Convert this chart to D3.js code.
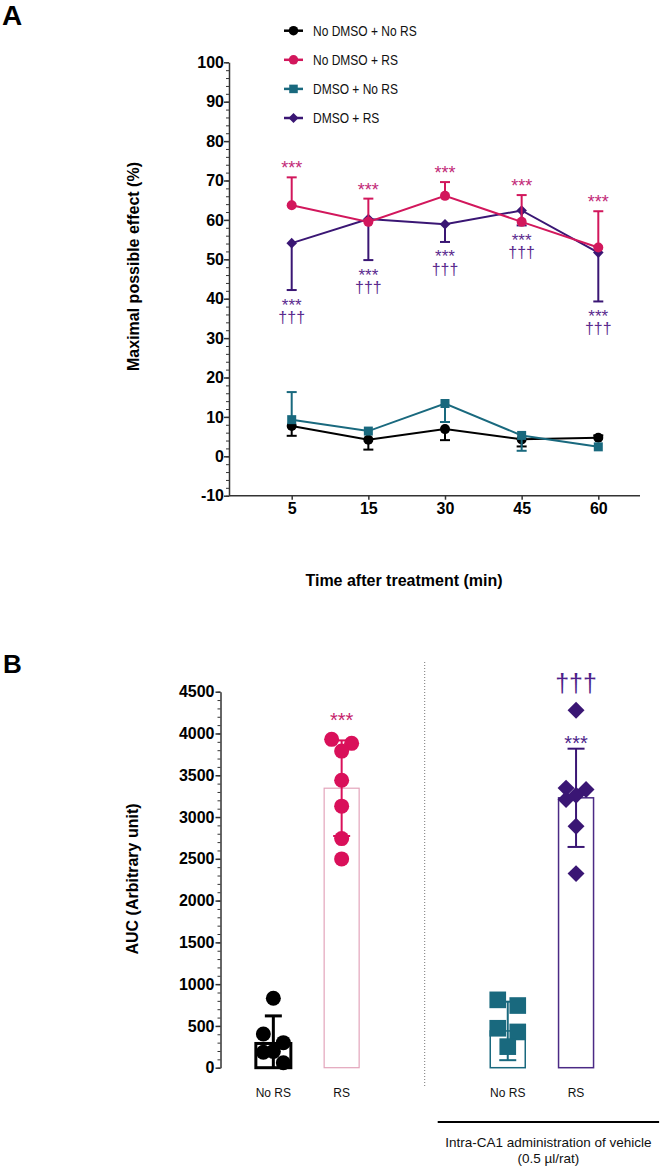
<!DOCTYPE html>
<html lang="en">
<head>
<meta charset="UTF-8">
<title>MPE time course and AUC</title>
<script src="https://cdn.jsdelivr.net/npm/d3@7/dist/d3.min.js"></script>
<style>
    body { margin: 0; background: #fff; }
    svg text { font-family: "Liberation Sans", Arial, sans-serif; }
</style>
</head>
<body>
<svg id="svg" width="665" height="1168"></svg>
<script>
    // ---- panel A : maximal possible effect over time
    var times = ["5", "15", "30", "45", "60"];
    var groupNames = ["No DMSO + No RS", "No DMSO + RS", "DMSO + No RS", "DMSO + RS"];
    var mpeNoDmsoNoRs = [7.7, 4.2, 6.9, 4.3, 4.7];
    var mpeNoDmsoRs = [63.7, 59.5, 66.1, 59.5, 53.0];
    var mpeDmsoNoRs = [9.3, 6.4, 13.4, 5.3, 2.4];
    var mpeDmsoRs = [54.1, 60.2, 58.9, 62.4, 51.7];
    // end of the error bar as drawn (only one side is shown)
    var errNoDmsoNoRs = [5.2, 1.7, 4.1, 2.5, 5.3];
    var errNoDmsoRs = [70.8, 65.4, 69.6, 66.3, 62.2];
    var errDmsoNoRs = [16.3, 6.4, 8.7, 1.4, 2.4];
    var errDmsoRs = [42.2, 49.8, 54.4, 58.6, 39.3];
    var starsNoDmsoRs = ["***", "***", "***", "***", "***"];
    var starsDmsoRs = ["***", "***", "***", "***", "***"];
    var daggersDmsoRs = ["†††", "†††", "†††", "†††", "†††"];
    var mpeTicks = [-10, 0, 10, 20, 30, 40, 50, 60, 70, 80, 90, 100];

    // ---- panel B : area under the curve
    var aucSets = ["none", "none", "vehicle", "vehicle"];
    var aucGroups = ["No RS", "RS", "No RS", "RS"];
    var aucMean = [290, 3345, 440, 3230];
    var aucSD = [330, 572, 350, 588];
    var aucNoRs = [832, 404, 300, 195, 185, 60];
    var aucRs = [3930, 3882, 3789, 3441, 3130, 2742, 2499];
    var aucVehNoRs = [812, 744, 472, 428, 252];
    var aucVehRs = [4277, 3346, 3330, 3260, 3210, 2890, 2323];
    var aucTicks = [0, 500, 1000, 1500, 2000, 2500, 3000, 3500, 4000, 4500];

    var PINK = "#d2175c", TEAL = "#19697e", PURPLE = "#3a1674", BLACK = "#000";
    var PINK_TXT = "#c22a78", PURPLE_TXT = "#5b2b8e";

    var svg = d3.select("#svg");
    var plainNum = function (d) { return d < 0 ? "-" + Math.abs(d) : String(d); };

    // marker paths
    function marker(kind, scale) {
        if (kind === "circle") return d3.symbol(d3.symbolCircle, Math.PI * 25 * scale * scale)();
        if (kind === "square") return d3.symbol(d3.symbolSquare, 81 * scale * scale)();
        return d3.symbol(d3.symbolSquare, 56 * scale * scale)();
    }
    function markerRot(kind) { return kind === "diamond" ? " rotate(45)" : ""; }

    // ================= panel A =================
    var gA = svg.append("g");
    var xA = d3.scalePoint(times, [291.7, 598.3]);
    var yA = d3.scaleLinear([-10, 100], [495.7, 62.3]);
    var axisX0 = 229, axisX1 = 640;

    gA.append("text").attr("x", 2).attr("y", 25)
        .style("font-size", "28px").style("font-weight", "bold").text("A");

    // minor y ticks
    gA.append("g").attr("transform", "translate(" + axisX0 + ",0)")
        .call(d3.axisLeft(yA).tickValues(d3.range(-10, 100.1, 2)).tickSize(3).tickFormat(""))
        .call(function (g) { g.select(".domain").remove(); g.selectAll("line").attr("stroke", "#333"); });
    // major y ticks
    gA.append("g").attr("transform", "translate(" + axisX0 + ",0)")
        .call(d3.axisLeft(yA).tickValues(mpeTicks).tickFormat(plainNum).tickSize(5).tickPadding(0).tickSizeOuter(0))
        .call(function (g) {
            g.select(".domain").attr("stroke", "#333").attr("stroke-width", 1.5);
            g.selectAll("line").attr("stroke", "#333").attr("stroke-width", 1.5);
            g.selectAll("text").attr("fill", "#000").style("font-size", "16px").style("font-weight", "bold");
        });
    // x axis
    gA.append("line").attr("x1", axisX0).attr("x2", axisX1)
        .attr("y1", yA(-10)).attr("y2", yA(-10)).attr("stroke", "#333").attr("stroke-width", 1.5);
    gA.append("g").attr("transform", "translate(0," + yA(-10) + ")")
        .call(d3.axisBottom(xA).tickSize(4).tickPadding(3))
        .call(function (g) {
            g.select(".domain").remove();
            g.selectAll("line").attr("stroke", "#333").attr("stroke-width", 1.5);
            g.selectAll("text").attr("fill", "#000").style("font-size", "16px").style("font-weight", "bold");
        });

    gA.append("text").attr("transform", "translate(139,266.5) rotate(-90)")
        .attr("text-anchor", "middle").style("font-size", "16px").style("font-weight", "bold")
        .text("Maximal possible effect (%)");
    gA.append("text").attr("x", 404).attr("y", 586)
        .attr("text-anchor", "middle").style("font-size", "16px").style("font-weight", "bold")
        .text("Time after treatment (min)");

    var seriesA = [
        {name: groupNames[0], vals: mpeNoDmsoNoRs, err: errNoDmsoNoRs, color: BLACK, kind: "circle"},
        {name: groupNames[1], vals: mpeNoDmsoRs, err: errNoDmsoRs, color: PINK, kind: "circle"},
        {name: groupNames[2], vals: mpeDmsoNoRs, err: errDmsoNoRs, color: TEAL, kind: "square"},
        {name: groupNames[3], vals: mpeDmsoRs, err: errDmsoRs, color: PURPLE, kind: "diamond"}
    ];
    var drawOrder = [0, 2, 3, 1];
    var line = d3.line().x(function (d, i) { return xA(times[i]); }).y(function (d) { return yA(d); });

    drawOrder.forEach(function (k) {
        var s = seriesA[k];
        var g = gA.append("g");
        // error bars
        s.err.forEach(function (e, i) {
            if (Math.abs(e - s.vals[i]) < 0.3) return;
            var x = xA(times[i]);
            g.append("line").attr("x1", x).attr("x2", x).attr("y1", yA(s.vals[i])).attr("y2", yA(e))
                .attr("stroke", s.color).attr("stroke-width", 2);
            g.append("line").attr("x1", x - 5).attr("x2", x + 5).attr("y1", yA(e)).attr("y2", yA(e))
                .attr("stroke", s.color).attr("stroke-width", 2);
        });
        g.append("path").attr("d", line(s.vals)).attr("fill", "none")
            .attr("stroke", s.color).attr("stroke-width", 2);
        g.selectAll("path.pt").data(s.vals).enter().append("path").attr("class", "pt")
            .attr("d", marker(s.kind, 1))
            .attr("transform", function (d, i) { return "translate(" + xA(times[i]) + "," + yA(d) + ")" + markerRot(s.kind); })
            .attr("fill", s.color);
    });

    // significance marks
    gA.selectAll("text.sp").data(starsNoDmsoRs).enter().append("text").attr("class", "sp")
        .attr("x", function (d, i) { return xA(times[i]); })
        .attr("y", function (d, i) { return yA(errNoDmsoRs[i]) - 3; })
        .attr("text-anchor", "middle").attr("fill", PINK_TXT).style("font-size", "18px").text(function (d) { return d; });
    // stars and daggers under the DMSO + RS bars share one text block
    var markPu = gA.selectAll("text.spu").data(starsDmsoRs).enter().append("text").attr("class", "spu")
        .attr("text-anchor", "middle").attr("fill", PURPLE_TXT);
    markPu.append("tspan")
        .attr("x", function (d, i) { return xA(times[i]); })
        .attr("y", function (d, i) { return yA(errDmsoRs[i]) + 20.5; })
        .style("font-size", "17px").text(function (d) { return d; });
    markPu.append("tspan")
        .attr("x", function (d, i) { return xA(times[i]); })
        .attr("y", function (d, i) { return yA(errDmsoRs[i]) + 33; })
        .style("font-size", "16px").text(function (d, i) { return daggersDmsoRs[i]; });

    // legend
    var legend = gA.append("g").attr("transform", "translate(293.5,30.7)");
    seriesA.forEach(function (s, i) {
        var row = legend.append("g").attr("transform", "translate(0," + (i * 29.1) + ")");
        row.append("line").attr("x1", -9.5).attr("x2", 9.5).attr("stroke", s.color).attr("stroke-width", 2.5);
        row.append("path").attr("d", marker(s.kind, 0.95)).attr("transform", markerRot(s.kind).trim() || null)
            .attr("fill", s.color);
        row.append("text").attr("transform", "translate(19.5,5.3) scale(0.8,1)")
            .style("font-size", "15px").attr("fill", "#111").text(s.name);
    });

    // ================= panel B =================
    var gB = svg.append("g");
    var yB = d3.scaleLinear([0, 4500], [1067.7, 691.7]);
    var outer = d3.scaleBand(["none", "vehicle"], [190.3, 659.1]);
    var inner = d3.scalePoint(["No RS", "RS"], [0, outer.bandwidth()]).padding(1.216);
    var barW = 35;
    function bx(i) { return outer(aucSets[i]) + inner(aucGroups[i]); }
    var axisBX = 220.5;

    gB.append("text").attr("x", 3).attr("y", 673)
        .style("font-size", "26px").style("font-weight", "bold").text("B");

    gB.append("g").attr("transform", "translate(" + axisBX + ",0)")
        .call(d3.axisLeft(yB).tickValues(d3.range(0, 4501, 100)).tickSize(3).tickFormat(""))
        .call(function (g) { g.select(".domain").remove(); g.selectAll("line").attr("stroke", "#333"); });
    gB.append("g").attr("transform", "translate(" + axisBX + ",0)")
        .call(d3.axisLeft(yB).tickValues(aucTicks).tickFormat(plainNum).tickSize(5).tickPadding(1).tickSizeOuter(0))
        .call(function (g) {
            g.select(".domain").attr("stroke", "#333").attr("stroke-width", 1.5);
            g.selectAll("line").attr("stroke", "#333").attr("stroke-width", 1.5);
            g.selectAll("text").attr("fill", "#000").style("font-size", "16px").style("font-weight", "bold");
        });

    gB.append("text").attr("transform", "translate(137.5,879) rotate(-90)")
        .attr("text-anchor", "middle").style("font-size", "16px").style("font-weight", "bold")
        .text("AUC (Arbitrary unit)");

    var setsB = [
        {pts: aucNoRs, color: BLACK, bar: BLACK, barW: 3, errW: 3, kind: "circle", size: 1.5},
        {pts: aucRs, color: "#d9105a", bar: "#e3a5bb", barW: 1.2, errW: 2, kind: "circle", size: 1.5},
        {pts: aucVehNoRs, color: TEAL, bar: TEAL, barW: 1.5, errW: 2, kind: "square", size: 1.85},
        {pts: aucVehRs, color: PURPLE, bar: "#4b2a85", barW: 1.5, errW: 2, kind: "diamond", size: 1.6}
    ];

    // points closer than one marker are grouped and spread left / right / centre
    function spread(vals, step, minGap) {
        var sorted = vals.slice().sort(function (a, b) { return b - a; });
        var out = [], cluster = [];
        var pattern = [-1, 1, 0];
        function flush() {
            cluster.forEach(function (v, j) {
                var dx = cluster.length === 1 ? 0 : pattern[j % 3] * step;
                out.push({v: v, dx: dx, y: yB(v)});
            });
            cluster = [];
        }
        sorted.forEach(function (v) {
            if (cluster.length && yB(v) - yB(cluster[cluster.length - 1]) >= minGap) flush();
            cluster.push(v);
        });
        flush();
        return out;
    }

    setsB.forEach(function (s, i) {
        var cx = bx(i), m = aucMean[i], sd = aucSD[i];
        var g = gB.append("g");
        g.append("rect").attr("x", cx - barW / 2).attr("y", yB(m))
            .attr("width", barW).attr("height", yB(0) - yB(m))
            .attr("fill", "none").attr("stroke", s.bar).attr("stroke-width", s.barW);
        var lo = Math.max(0, m - sd), hi = m + sd;
        g.append("line").attr("x1", cx).attr("x2", cx).attr("y1", yB(lo)).attr("y2", yB(hi))
            .attr("stroke", s.color).attr("stroke-width", s.errW);
        [lo, hi].forEach(function (e) {
            if (e <= 0) return;
            g.append("line").attr("x1", cx - 8.5).attr("x2", cx + 8.5).attr("y1", yB(e)).attr("y2", yB(e))
                .attr("stroke", s.color).attr("stroke-width", s.errW);
        });
        g.selectAll("path.pt").data(spread(s.pts, 10, 14)).enter().append("path").attr("class", "pt")
            .attr("d", marker(s.kind, s.size))
            .attr("transform", function (d) { return "translate(" + (cx + d.dx) + "," + d.y + ")" + markerRot(s.kind); })
            .attr("fill", s.color);
        gB.append("text").attr("x", cx).attr("y", 1097).attr("text-anchor", "middle")
            .style("font-size", "12px").attr("fill", "#111").text(aucGroups[i]);
    });

    // significance marks
    gB.append("text").attr("x", bx(1)).attr("y", yB(d3.max(aucRs)) - 12)
        .attr("text-anchor", "middle").attr("fill", "#c61f6d").style("font-size", "20px").text("***");
    gB.append("text").attr("x", bx(3)).attr("y", yB(aucMean[3] + aucSD[3]) + 1)
        .attr("text-anchor", "middle").attr("fill", "#4e1f8a").style("font-size", "20px").text("***");
    gB.append("text").attr("x", bx(3)).attr("y", yB(d3.max(aucVehRs)) - 18.5)
        .attr("text-anchor", "middle").attr("fill", "#4e1f8a").style("font-size", "25px").text("†††");

    // divider and vehicle bracket
    var divX = outer("vehicle");
    gB.append("line").attr("x1", divX).attr("x2", divX).attr("y1", 662).attr("y2", 1087)
        .attr("stroke", "#777").attr("stroke-width", 1).attr("stroke-dasharray", "1,2");
    gB.append("line").attr("x1", divX + 13).attr("x2", outer("vehicle") + outer.bandwidth())
        .attr("y1", 1122).attr("y2", 1122).attr("stroke", "#000").attr("stroke-width", 2);
    var capX = divX + 13 + (outer.bandwidth() - 13) / 2;
    gB.append("text").attr("x", capX).attr("y", 1146.5).attr("text-anchor", "middle")
        .style("font-size", "13.5px").attr("fill", "#111").text("Intra-CA1 administration of vehicle");
    gB.append("text").attr("x", capX).attr("y", 1162.5).attr("text-anchor", "middle")
        .style("font-size", "13.5px").attr("fill", "#111").text("(0.5 µl/rat)");
</script>
</body>
</html>
